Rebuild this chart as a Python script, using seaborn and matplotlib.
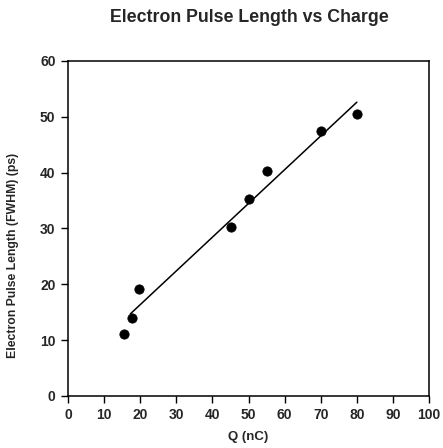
import numpy as np
import pandas as pd
import matplotlib
matplotlib.use("Agg")
import matplotlib.pyplot as plt
import seaborn as sns

# data
charge_nc = [15.6, 17.7, 19.8, 45.2, 50.2, 55.2, 70.0, 80.1]
pulse_ps = [11.1, 14.0, 19.2, 30.2, 35.3, 40.3, 47.4, 50.4]
fit_range = [17.3, 80.0]
x_ticks = [0, 10, 20, 30, 40, 50, 60, 70, 80, 90, 100]
y_ticks = [0, 10, 20, 30, 40, 50, 60]

sns.set_theme(style="white")
plt.rcParams["font.family"] = ["Liberation Sans", "DejaVu Sans"]

df = pd.DataFrame({"Q": charge_nc, "pulse": pulse_ps})
slope, intercept = np.polyfit(df["Q"], df["pulse"], 1)
fit = pd.DataFrame({"Q": fit_range})
fit["pulse"] = slope * fit["Q"] + intercept

fig = plt.figure(figsize=(4.43, 4.48), dpi=100)
ax = fig.add_axes([0.1535, 0.1161, 0.815, 0.748])

sns.lineplot(data=fit, x="Q", y="pulse", color="black", linewidth=1.1, ax=ax)
sns.scatterplot(data=df, x="Q", y="pulse", color="black", s=45, edgecolor="black", ax=ax, zorder=3)

ax.set_xlim(0, 100)
ax.set_ylim(0, 60)
ax.set_xticks(x_ticks)
ax.set_yticks(y_ticks)
ax.tick_params(axis="both", direction="out", length=5, width=1, color="black",
               labelsize=10, pad=4, bottom=True, left=True)
for lab in ax.get_xticklabels() + ax.get_yticklabels():
    lab.set_fontweight("bold")
for sp in ax.spines.values():
    sp.set_color("black")
    sp.set_linewidth(1.1)

ax.set_xlabel("Q (nC)", fontsize=9.5, fontweight="bold", labelpad=6)
ax.set_ylabel("Electron Pulse Length (FWHM) (ps)", fontsize=8.8, fontweight="bold")
ax.yaxis.set_label_coords(-0.135, 0.42)
fig.suptitle("Electron Pulse Length vs Charge", x=0.562, y=0.98, fontsize=12.8, fontweight="bold")

plt.savefig("out.png", dpi=100)
plt.close()
